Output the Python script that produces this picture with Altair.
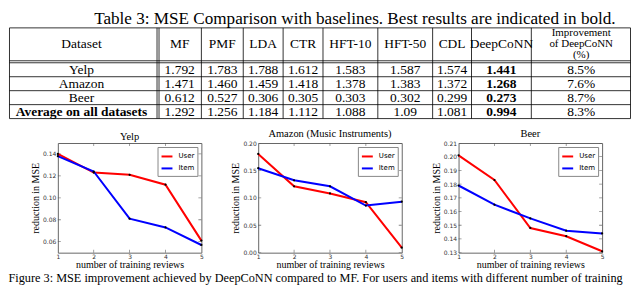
import altair as alt
import pandas as pd

# ---------------- data ----------------
table_title = "Table 3: MSE Comparison with baselines. Best results are indicated in bold."
methods = ["MF", "PMF", "LDA", "CTR", "HFT-10", "HFT-50", "CDL", "DeepCoNN"]
improvement_header = "Improvement\nof DeepCoNN\n(%)"
datasets = ["Yelp", "Amazon", "Beer", "Average on all datasets"]
mse_yelp = ["1.792", "1.783", "1.788", "1.612", "1.583", "1.587", "1.574", "1.441"]
mse_amazon = ["1.471", "1.460", "1.459", "1.418", "1.378", "1.383", "1.372", "1.268"]
mse_beer = ["0.612", "0.527", "0.306", "0.305", "0.303", "0.302", "0.299", "0.273"]
mse_average = ["1.292", "1.256", "1.184", "1.112", "1.088", "1.09", "1.081", "0.994"]
improvement = ["8.5%", "7.6%", "8.7%", "8.3%"]

num_reviews = [1, 2, 3, 4, 5]
yelp_user = [0.140, 0.123, 0.121, 0.112, 0.061]
yelp_item = [0.138, 0.124, 0.081, 0.073, 0.057]
amazon_user = [0.180, 0.121, 0.108, 0.092, 0.009]
amazon_item = [0.154, 0.132, 0.121, 0.086, 0.093]
beer_user = [0.201, 0.183, 0.148, 0.142, 0.131]
beer_item = [0.179, 0.165, 0.155, 0.146, 0.144]
yelp_ticks = [0.06, 0.08, 0.10, 0.12, 0.14]
amazon_ticks = [0.00, 0.05, 0.10, 0.15, 0.20]
beer_ticks = [0.13, 0.14, 0.15, 0.16, 0.17, 0.18, 0.19, 0.20, 0.21]

caption = ("Figure 3: MSE improvement achieved by DeepCoNN compared to MF. "
           "For users and items with different number of training")

# ---------------- table layout (page pixels) ----------------
SERIF = "Liberation Serif"
SANS = "DejaVu Sans"
X0, Y0 = 8, 8
T_W, T_H = 624, 110
TOP = 26.5
col_edges = [4, 157.5, 201, 243, 283, 323, 378, 433, 472, 532, 632]
col_center = [(a + b) / 2 for a, b in zip(col_edges[:-1], col_edges[1:])]
HDR_BOT = 59.5
row_edges = [61.5, 75.5, 89.5, 103.5, 117.5]
hline_y = [TOP, HDR_BOT] + row_edges
row_center = [(a + b) / 2 for a, b in zip(row_edges[:-1], row_edges[1:])]
header_y = (TOP + HDR_BOT) / 2
LINE_H = 11
vline_x = [8.5, 156.5, 158.5, 201, 243, 283, 323, 378, 433, 472, 532, 631.5]
FS = 13.5

cells = []
cells.append(dict(x=col_center[0], y=header_y, text="Dataset", bold=False, small=False))
for i, m in enumerate(methods):
    cells.append(dict(x=col_center[i + 1], y=header_y, text=m, bold=False, small=False))
cells.append(dict(x=col_center[9], y=header_y - LINE_H, text=improvement_header, bold=False, small=True))
for r, (name, vals) in enumerate(zip(datasets, [mse_yelp, mse_amazon, mse_beer, mse_average])):
    cells.append(dict(x=col_center[0], y=row_center[r], text=name, bold=(r == 3), small=False))
    for i, v in enumerate(vals):
        cells.append(dict(x=col_center[i + 1], y=row_center[r], text=v, bold=(i == 7), small=False))
    cells.append(dict(x=col_center[9], y=row_center[r], text=improvement[r], bold=False, small=False))
cells_df = pd.DataFrame(cells)

hl_df = pd.DataFrame({"y": hline_y, "x1": [8.5] * len(hline_y), "x2": [631.5] * len(hline_y)})
vl_df = pd.DataFrame({"x": vline_x, "y1": [TOP] * len(vline_x), "y2": [row_edges[-1]] * len(vline_x)})
title_df = pd.DataFrame({"x": [355], "y": [8.3], "text": [table_title]})

xs = alt.Scale(domain=[X0, X0 + T_W], nice=False, zero=False)
ys = alt.Scale(domain=[Y0, Y0 + T_H], nice=False, zero=False, reverse=True)


def enc(chart):
    return chart.encode(x=alt.X("x:Q", scale=xs, axis=None), y=alt.Y("y:Q", scale=ys, axis=None),
                        text="text:N")


text_normal = enc(alt.Chart(cells_df).transform_filter("!datum.bold && !datum.small").mark_text(
    font=SERIF, fontSize=FS, baseline="middle", align="center", color="black"))
text_small = enc(alt.Chart(cells_df).transform_filter("datum.small").mark_text(
    font=SERIF, fontSize=11, baseline="middle", align="center", lineBreak="\n", lineHeight=LINE_H,
    color="black"))
text_bold = enc(alt.Chart(cells_df).transform_filter("datum.bold").mark_text(
    font=SERIF, fontSize=FS, fontWeight="bold", baseline="middle", align="center", color="black"))
hrules = alt.Chart(hl_df).mark_rule(color="black", strokeWidth=0.8).encode(
    x=alt.X("x1:Q", scale=xs, axis=None), x2="x2:Q", y=alt.Y("y:Q", scale=ys, axis=None))
vrules = alt.Chart(vl_df).mark_rule(color="black", strokeWidth=0.8).encode(
    x=alt.X("x:Q", scale=xs, axis=None), y=alt.Y("y1:Q", scale=ys, axis=None), y2="y2:Q")
ttl = enc(alt.Chart(title_df).mark_text(
    font=SERIF, fontSize=17.2, baseline="top", align="center", color="black"))

table = alt.layer(hrules, vrules, text_normal, text_small, text_bold, ttl).properties(
    width=T_W, height=T_H, view=alt.ViewBackground(stroke="transparent"))


# ---------------- line charts ----------------
def line_chart(name, user, item, domain, ticks):
    xscale = alt.Scale(domain=[1, 5], nice=False, zero=False)
    yscale = alt.Scale(domain=domain, nice=False, zero=False)
    xenc = alt.X("n:Q", scale=xscale,
                 axis=alt.Axis(values=num_reviews, format="d", title="number of training reviews"))
    yenc = alt.Y("mse:Q", scale=yscale,
                 axis=alt.Axis(values=ticks, format=".2f", title="reduction in MSE"))
    df = pd.DataFrame({"n": num_reviews * 2, "mse": user + item,
                       "series": ["User"] * len(user) + ["Item"] * len(item)})
    base = alt.Chart(df).encode(
        x=xenc, y=yenc,
        color=alt.Color("series:N", scale=alt.Scale(domain=["User", "Item"], range=["#ff0000", "#0000ff"]),
                        legend=alt.Legend(title=None, orient="top-right", offset=4, fillColor="white",
                                          strokeColor="#888888", padding=3, symbolType="stroke",
                                          symbolStrokeWidth=2, symbolSize=120, labelFont=SANS,
                                          labelFontSize=7, labelColor="black", labelOffset=5,
                                          rowPadding=1)),
    )
    lu = base.transform_filter("datum.series == 'User'").mark_line(strokeWidth=2)
    li = base.transform_filter("datum.series == 'Item'").mark_line(strokeWidth=2)
    pts = base.mark_point(filled=True, size=5, opacity=1).encode(color=alt.value("black"))

    # inward frame ticks (matplotlib style)
    ytick_df = pd.DataFrame({"n": [1] * len(ticks) + [5] * len(ticks), "mse": ticks * 2})
    inner_x = num_reviews[1:-1]
    xtick_df = pd.DataFrame({"n": inner_x * 2, "mse": [domain[0]] * len(inner_x) + [domain[1]] * len(inner_x)})
    yt = alt.Chart(ytick_df).mark_tick(orient="horizontal", size=6, thickness=0.8, color="#555555",
                                       clip=True).encode(x=xenc, y=yenc)
    xt = alt.Chart(xtick_df).mark_tick(orient="vertical", size=6, thickness=0.8, color="#555555",
                                       clip=True).encode(x=xenc, y=yenc)
    return alt.layer(yt, xt, lu, li, pts).properties(
        width=144, height=110,
        title=alt.TitleParams(text=name, font=SERIF, fontSize=10.5, fontWeight="normal",
                              color="black", offset=1, anchor="middle"),
        view=alt.ViewBackground(stroke="#666666", strokeWidth=1))


yelp = line_chart("Yelp", yelp_user, yelp_item, [0.05, 0.15], yelp_ticks)
amazon = line_chart("Amazon (Music Instruments)", amazon_user, amazon_item, [0.0, 0.2], amazon_ticks)
beer = line_chart("Beer", beer_user, beer_item, [0.13, 0.21], beer_ticks)

charts = alt.hconcat(yelp, amazon, beer, spacing=24).resolve_scale(color="independent")

spacer = alt.Chart(pd.DataFrame({"v": [0]})).mark_rect(opacity=0).encode(
    x=alt.value(0), x2=alt.value(1), y=alt.value(0), y2=alt.value(1)
).properties(width=1, height=1, view=alt.ViewBackground(stroke="transparent"))

row = alt.hconcat(spacer, charts, spacing=19)

chart = alt.vconcat(
    table, row, spacing=8, padding=0,
    title=alt.TitleParams(text=caption, orient="bottom", anchor="start", font=SERIF, fontSize=12.3,
                          fontWeight="normal", color="black", offset=2),
).configure_axis(
    labelFont=SANS, labelFontSize=6, labelColor="#333333", titleFont=SERIF, titleFontSize=10,
    titleFontWeight="normal", titleColor="black", domain=False, ticks=False, grid=False,
    labelFlush=False, labelPadding=2, titlePadding=2,
).configure_axisX(labelPadding=1, titlePadding=0).configure_view(stroke="transparent").properties(
    background="white")

chart.save("out.html", embed_options={"renderer": "svg", "actions": False})
